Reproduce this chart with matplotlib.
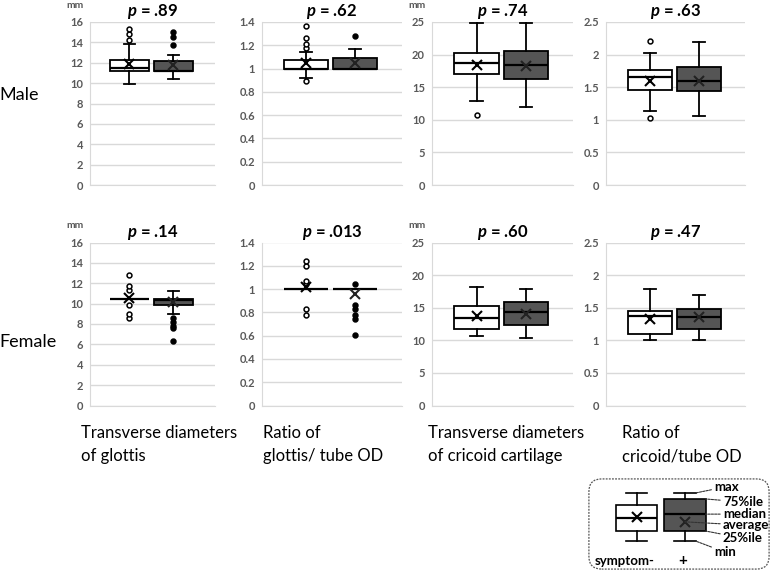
import matplotlib
matplotlib.use("Agg")
import matplotlib.pyplot as plt
from matplotlib.patches import FancyBboxPatch
from matplotlib.ticker import MultipleLocator, FuncFormatter

plt.rcParams["font.family"] = ["Lato", "DejaVu Sans"]
plt.rcParams["mathtext.fontset"] = "custom"
plt.rcParams["mathtext.it"] = "Lato:italic:bold"
plt.rcParams["mathtext.rm"] = "Lato:bold"

keys = ["whislo", "q1", "med", "q3", "whishi", "mean"]

# each panel: [symptom-, symptom+]
male_glottis = [[9.9, 11.2, 11.5, 12.25, 13.8, 11.9], [10.4, 11.2, 11.2, 12.15, 12.8, 11.8]]
male_glottis_out = [[14.2, 14.85, 15.35], [13.7, 14.5, 15.0]]
male_glottis_ratio = [[0.92, 1.0, 1.0, 1.07, 1.14, 1.05], [1.0, 1.0, 1.0, 1.09, 1.17, 1.05]]
male_glottis_ratio_out = [[0.89, 1.18, 1.21, 1.265, 1.365], [1.28]]
male_cricoid = [[12.9, 17.0, 18.7, 20.2, 24.9, 18.4], [12.0, 16.2, 18.4, 20.5, 24.8, 18.2]]
male_cricoid_out = [[10.8], []]
male_cricoid_ratio = [[1.14, 1.46, 1.65, 1.76, 2.03, 1.6], [1.06, 1.44, 1.6, 1.81, 2.19, 1.6]]
male_cricoid_ratio_out = [[1.03, 2.215], []]

female_glottis = [[10.5, 10.5, 10.5, 10.5, 10.5, 10.6], [9.0, 9.87, 10.4, 10.45, 11.26, 10.2]]
female_glottis_out = [[8.6, 8.95, 9.9, 11.3, 11.75, 12.8], [6.37, 7.6, 7.84, 8.17, 8.6]]
female_glottis_ratio = [[1.0, 1.0, 1.0, 1.0, 1.0, 1.015], [1.0, 1.0, 1.0, 1.0, 1.0, 0.96]]
female_glottis_ratio_out = [[0.78, 0.83, 1.04, 1.07, 1.2, 1.24], [0.605, 0.74, 0.78, 0.83, 0.865, 1.04]]
female_cricoid = [[10.6, 11.7, 13.4, 15.3, 18.1, 13.8], [10.4, 12.35, 14.3, 15.8, 17.8, 14.1]]
female_cricoid_out = [[], []]
female_cricoid_ratio = [[1.0, 1.09, 1.37, 1.45, 1.79, 1.32], [1.0, 1.18, 1.36, 1.48, 1.7, 1.35]]
female_cricoid_ratio_out = [[], []]

male_p = [".89", ".62", ".74", ".63"]
female_p = [".14", ".013", ".60", ".47"]
y_max = [16, 1.4, 25, 2.5]
y_step = [2, 0.2, 5, 0.5]
has_mm = [True, False, True, False]
col_line1 = ["Transverse diameters", "Ratio of", "Transverse diameters", "Ratio of"]
col_line2 = ["of glottis", "glottis/ tube OD", "of cricoid cartilage", "cricoid/tube OD"]
row_labels = ["Male", "Female"]

legend_stats = [[0, 2.1, 4.8, 7.5, 10, 5.0], [0, 2.1, 5.6, 8.75, 10, 4.0]]
legend_labels = ["max", "75%ile", "median", "average", "25%ile", "min"]

male = [(male_glottis, male_glottis_out), (male_glottis_ratio, male_glottis_ratio_out),
        (male_cricoid, male_cricoid_out), (male_cricoid_ratio, male_cricoid_ratio_out)]
female = [(female_glottis, female_glottis_out), (female_glottis_ratio, female_glottis_ratio_out),
          (female_cricoid, female_cricoid_out), (female_cricoid_ratio, female_cricoid_ratio_out)]


def draw_box(ax, vals, fliers, pos, dark, width=0.9, capw=0.25, lw=1.3):
    st = dict(zip(keys, vals))
    st["fliers"] = fliers
    ax.bxp([st], positions=[pos], widths=width, capwidths=capw, showmeans=True,
           patch_artist=True,
           boxprops=dict(facecolor="#555555" if dark else "white", edgecolor="black", linewidth=lw),
           medianprops=dict(color="black", linewidth=1.6),
           whiskerprops=dict(color="black", linewidth=lw),
           capprops=dict(color="black", linewidth=lw),
           meanprops=dict(marker="x", markeredgecolor="#222222" if dark else "black",
                          markersize=7, markeredgewidth=1.5),
           flierprops=dict(marker="o", markersize=3.5,
                           markerfacecolor="black" if dark else "white",
                           markeredgecolor="black", markeredgewidth=1.1))


fig = plt.figure(figsize=(7.77, 5.76), dpi=100)

lefts = [90, 262, 432, 606]
widths = [125, 140, 141, 139]
tops = [22, 242.5]
height = 163

for r, (rows, pvals) in enumerate([(male, male_p), (female, female_p)]):
    for c in range(4):
        ax = fig.add_axes([lefts[c] / 777, 1 - (tops[r] + height) / 576,
                           widths[c] / 777, height / 576])
        data, outs = rows[c]
        draw_box(ax, data[0], outs[0], 1, False)
        draw_box(ax, data[1], outs[1], 2, True)
        ax.set_xlim(0.1, 2.95)
        ax.set_ylim(0, y_max[c])
        ax.yaxis.set_major_locator(MultipleLocator(y_step[c]))
        ax.yaxis.set_major_formatter(FuncFormatter(lambda v, p: f"{v:g}"))
        ax.set_xticks([])
        ax.grid(axis="y", color="#d9d9d9", linewidth=1)
        ax.set_axisbelow(True)
        for s in ["top", "right"]:
            ax.spines[s].set_visible(False)
        for s in ["left", "bottom"]:
            ax.spines[s].set_color("#d9d9d9")
        ax.tick_params(axis="y", length=0, pad=5, labelsize=8, labelcolor="#595959")
        for lab in ax.get_yticklabels():
            lab.set_fontweight("bold")
        ax.set_title(f"$p$ = {pvals[c]}", fontsize=12, fontweight="bold", pad=4)
        if has_mm[c]:
            ax.annotate("mm", xy=(0, 1), xycoords="axes fraction", xytext=(-11, 12),
                        textcoords="offset points", ha="center", va="center",
                        fontsize=7.5, fontweight="bold", color="#595959")

fig.text(19 / 777, 1 - 95 / 576, row_labels[0], fontsize=13, ha="center", va="center")
fig.text(28 / 777, 1 - 342 / 576, row_labels[1], fontsize=13, ha="center", va="center")

label_x = [81, 263, 428, 622]
for c in range(4):
    fig.text(label_x[c] / 777, 1 - 433 / 576, col_line1[c], fontsize=12, ha="left", va="center")
    fig.text(label_x[c] / 777, 1 - 456 / 576, col_line2[c], fontsize=12, ha="left", va="center")

# legend key
lax = fig.add_axes([588 / 777, 1 - 570 / 576, 182 / 777, 92 / 576])
lax.set_xlim(0, 3.75)
lax.set_ylim(-6, 13.1)
lax.axis("off")
draw_box(lax, legend_stats[0], [], 1, False, width=0.85, capw=0.45, lw=1.2)
draw_box(lax, legend_stats[1], [], 2, True, width=0.85, capw=0.45, lw=1.2)
lax.add_patch(FancyBboxPatch((0.005, 0.01), 0.99, 0.98, transform=lax.transAxes,
                             boxstyle="round,pad=0,rounding_size=0.07", mutation_aspect=1.98,
                             facecolor="none", edgecolor="#555555", linewidth=0.9,
                             linestyle=(0, (1.5, 1)), clip_on=False))
s = legend_stats[1]
anchors = [(2.22, s[4]), (2.42, s[3]), (2.42, s[2]), (2.0, s[5]), (2.42, s[1]), (2.22, s[0])]
label_pos = [(2.6, 11.3), (2.78, 8.1), (2.78, 5.6), (2.78, 3.3), (2.78, 0.6), (2.6, -2.3)]
for lab, a, p in zip(legend_labels, anchors, label_pos):
    lax.annotate(lab, xy=a, xytext=p, fontsize=9.5, fontweight="bold", ha="left", va="center",
                 arrowprops=dict(arrowstyle="-", linestyle=(0, (2, 1)), linewidth=0.8,
                                 color="#333333", shrinkA=0, shrinkB=0))
lax.text(0.75, -4.2, "symptom-", fontsize=9.5, fontweight="bold", ha="center", va="center")
lax.text(1.95, -4.2, "+", fontsize=11, fontweight="bold", ha="center", va="center")

fig.savefig("out.png", dpi=100)
